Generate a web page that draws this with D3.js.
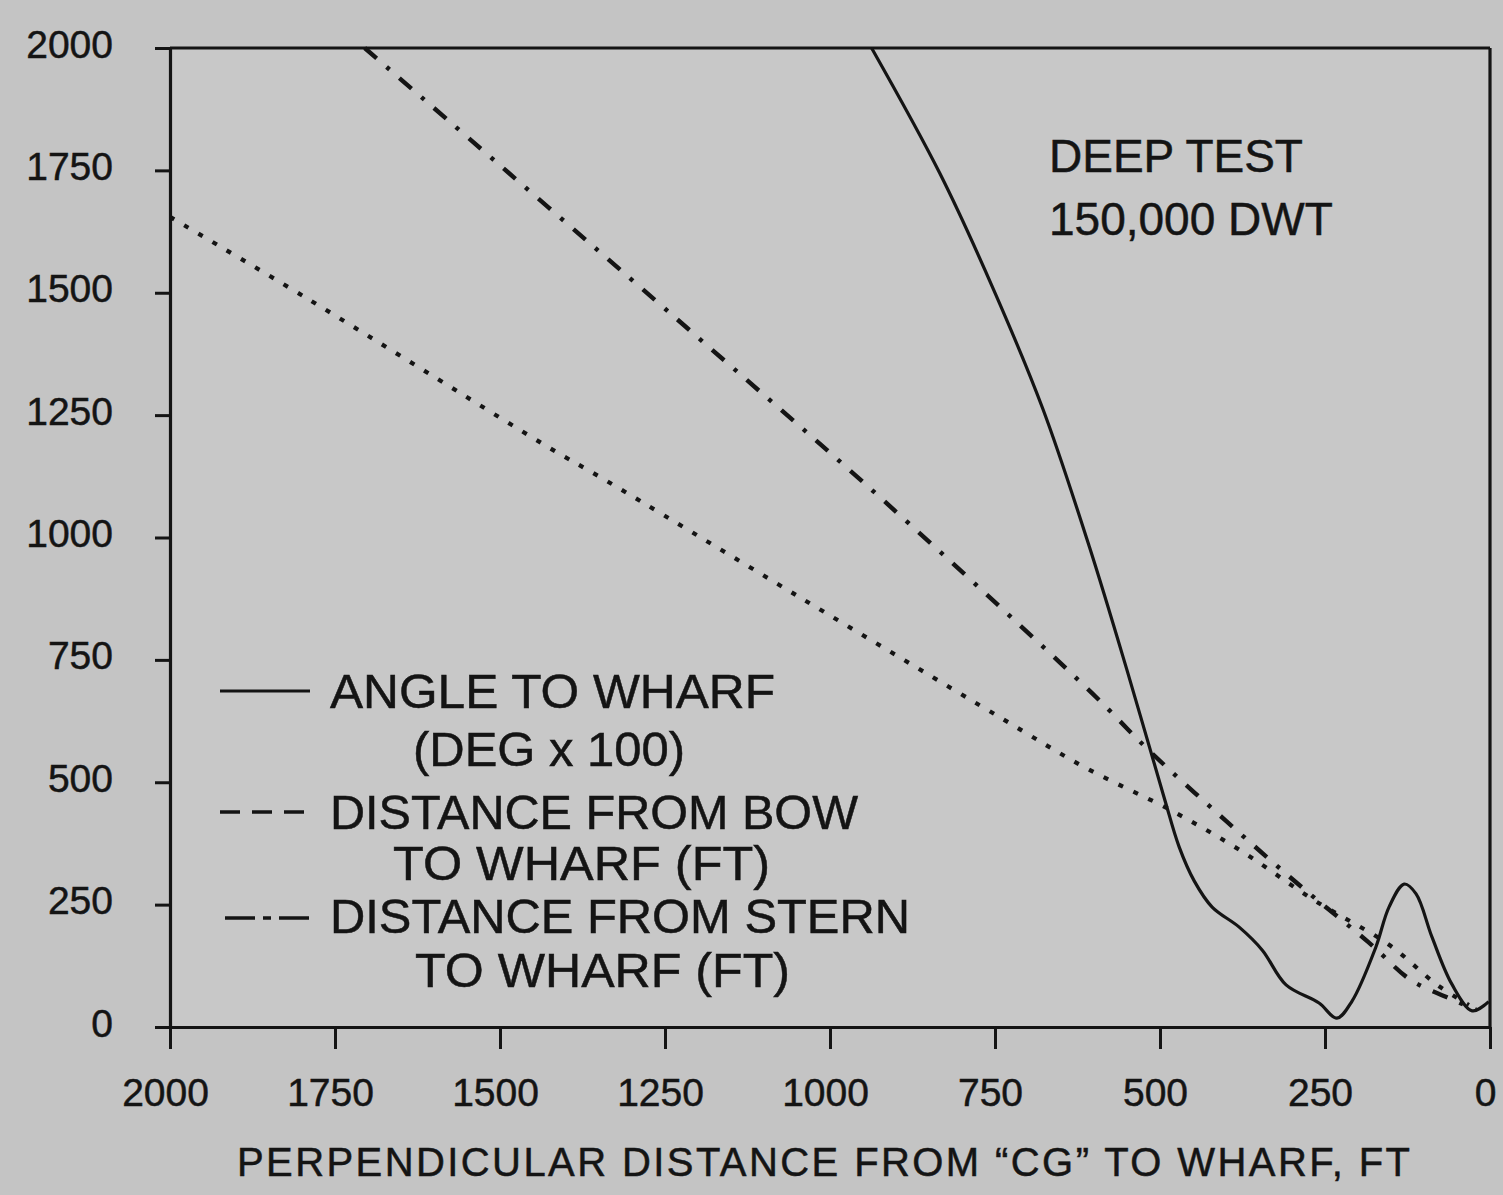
<!DOCTYPE html>
<html>
<head>
<meta charset="utf-8">
<script src="https://cdn.jsdelivr.net/npm/d3@7"></script>
<style>
  html, body { margin: 0; padding: 0; background: #c4c4c4; }
  svg { display: block; }
  text { font-family: "Liberation Sans", Arial, Helvetica, sans-serif; fill: #141414; stroke: #141414; stroke-width: 0.5px; }
</style>
</head>
<body>
<svg id="chart" width="1503" height="1195"></svg>
<script>
// ---- data ----
const xTickValues = [2000, 1750, 1500, 1250, 1000, 750, 500, 250, 0];
const yTickValues = [0, 250, 500, 750, 1000, 1250, 1500, 1750, 2000];

// Angle to wharf (deg x 100) - solid
const angleX = [937, 834, 752, 677, 607, 550, 494, 471, 448, 421, 380, 345, 309, 259, 232, 209, 173, 153, 130, 112, 88, 58, 27, 2];
const angleY = [2000, 1745, 1506, 1261, 981, 729, 470, 368, 298, 245, 204, 157, 86, 49, 18, 53, 163, 245, 292, 272, 184, 88, 33, 52];

// Distance from bow to wharf (ft) - dotted
const bowX = [2000, 1793, 1420, 1349, 1046, 743, 612, 481, 375, 269, 153, 80, 32];
const bowY = [1655, 1489, 1179, 1124, 878, 633, 529, 441, 358, 261, 168, 86, 45];

// Distance from stern to wharf (ft) - dash-dot
const sternX = [1705, 1208, 920, 603, 516, 400, 289, 183, 120, 62, 21];
const sternY = [2000, 1418, 1077, 682, 564, 421, 290, 172, 96, 59, 35];

const legendLines = ["ANGLE TO WHARF", "(DEG x 100)", "DISTANCE FROM BOW", "TO WHARF (FT)", "DISTANCE FROM STERN", "TO WHARF (FT)"];
const titleLines = ["DEEP TEST", "150,000 DWT"];
const xAxisTitle = "PERPENDICULAR DISTANCE FROM \u201CCG\u201D TO WHARF, FT";

// ---- layout ----
const svg = d3.select("#chart");
const L = 170, R = 1490, T = 48, B = 1027;
const x = d3.scaleLinear().domain([2000, 0]).range([L, R]);
const y = d3.scaleLinear().domain([0, 2000]).range([B, T]);

svg.append("rect").attr("x", 0).attr("y", 0).attr("width", 1503).attr("height", 1195).attr("fill", "#c4c4c4");
svg.append("rect").attr("x", L).attr("y", T).attr("width", R - L).attr("height", B - T).attr("fill", "#c8c8c8");

const ink = "#141414";

// bottom axis
const gx = svg.append("g").attr("transform", `translate(0,${B})`)
  .call(d3.axisBottom(x).tickValues(xTickValues).tickSize(22).tickSizeOuter(0).tickFormat(d3.format("d")));
gx.select(".domain").attr("stroke", ink).attr("stroke-width", 3.2);
gx.selectAll(".tick line").attr("stroke", ink).attr("stroke-width", 3);
gx.selectAll(".tick text").attr("y", 79).attr("dy", 0).attr("dx", -5)
  .style("font-size", "39px").attr("fill", ink);

// left axis
const gy = svg.append("g").attr("transform", `translate(${L},0)`)
  .call(d3.axisLeft(y).tickValues(yTickValues).tickSize(15).tickSizeOuter(0).tickFormat(d3.format("d")));
gy.select(".domain").attr("stroke", ink).attr("stroke-width", 3.2);
gy.selectAll(".tick line").attr("stroke", ink).attr("stroke-width", 3);
gy.selectAll(".tick text").attr("x", -57).attr("y", -5).attr("dy", "0.36em")
  .style("font-size", "39px").attr("fill", ink);

// top and right frame
svg.append("line").attr("x1", L).attr("x2", R).attr("y1", T).attr("y2", T).attr("stroke", ink).attr("stroke-width", 3.2);
svg.append("line").attr("x1", R).attr("x2", R).attr("y1", T).attr("y2", B).attr("stroke", ink).attr("stroke-width", 3.2);

// series
const line = d3.line().x(d => x(d[0])).y(d => y(d[1])).curve(d3.curveCatmullRom.alpha(0.5));
const angle = angleX.map((v, i) => [v, angleY[i]]);
const bow = bowX.map((v, i) => [v, bowY[i]]);
const stern = sternX.map((v, i) => [v, sternY[i]]);

svg.append("path").datum(bow).attr("d", line)
  .attr("fill", "none").attr("stroke", ink).attr("stroke-width", 4.2).attr("stroke-dasharray", "5,11.5");
svg.append("path").datum(stern).attr("d", line)
  .attr("fill", "none").attr("stroke", ink).attr("stroke-width", 4.4).attr("stroke-dasharray", "16,13,4,13");
svg.append("path").datum(angle).attr("d", line)
  .attr("fill", "none").attr("stroke", ink).attr("stroke-width", 3.2);

// title in plot
const titlePos = [[1049, 172], [1049, 235]];
titleLines.forEach((t, i) => {
  svg.append("text").attr("x", titlePos[i][0]).attr("y", titlePos[i][1])
    .style("font-size", "46px").text(t);
});

// legend
const legPos = [[330, 708, 445], [413, 766, 272], [330, 829, 528], [393, 880, 377], [330, 933, 580], [415, 987, 375]];
legendLines.forEach((t, i) => {
  svg.append("text").attr("x", legPos[i][0]).attr("y", legPos[i][1])
    .attr("textLength", legPos[i][2]).attr("lengthAdjust", "spacingAndGlyphs")
    .style("font-size", "48px").text(t);
});
svg.append("line").attr("x1", 220).attr("x2", 310).attr("y1", 691).attr("y2", 691).attr("stroke", ink).attr("stroke-width", 3);
svg.append("line").attr("x1", 220).attr("x2", 304).attr("y1", 812).attr("y2", 812).attr("stroke", ink).attr("stroke-width", 3.5).attr("stroke-dasharray", "20,12");
svg.append("line").attr("x1", 225).attr("x2", 311).attr("y1", 918).attr("y2", 918).attr("stroke", ink).attr("stroke-width", 3.5).attr("stroke-dasharray", "30,8,8,8,30");

// x-axis title
svg.append("text").attr("x", 237).attr("y", 1176)
  .attr("textLength", 1173).attr("lengthAdjust", "spacing")
  .style("font-size", "40px").text(xAxisTitle);
</script>
</body>
</html>
